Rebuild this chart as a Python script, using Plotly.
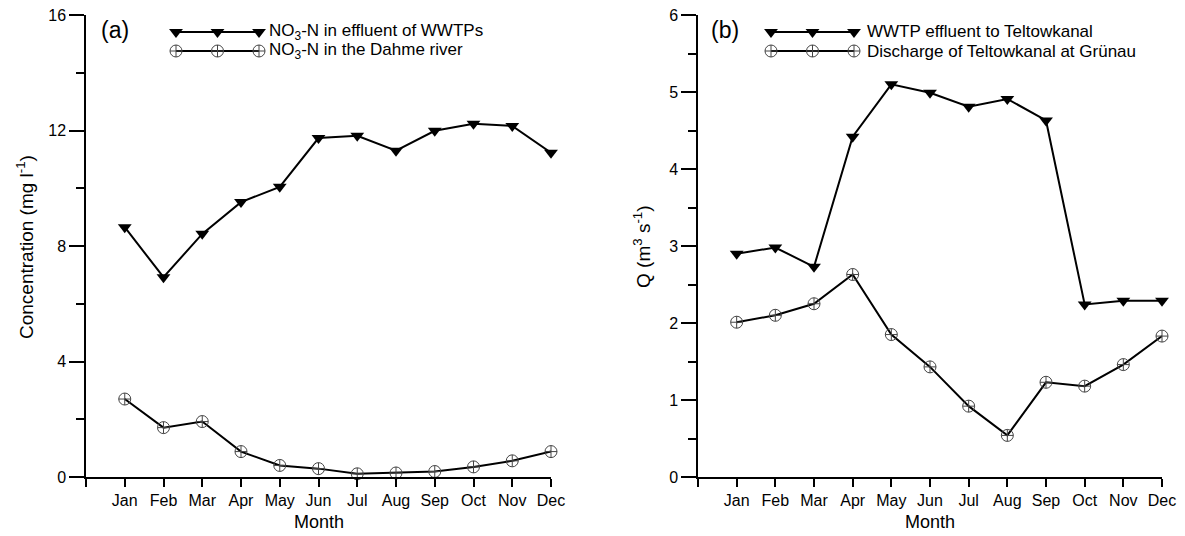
import plotly.graph_objects as go

# ---------------- data ----------------
months = ['Jan', 'Feb', 'Mar', 'Apr', 'May', 'Jun', 'Jul', 'Aug', 'Sep', 'Oct', 'Nov', 'Dec']
month_idx = list(range(1, 13))

wwtp_no3 = [8.65, 6.92, 8.42, 9.52, 10.05, 11.74, 11.82, 11.30, 11.99, 12.23, 12.16, 11.23]
dahme_no3 = [2.70, 1.71, 1.92, 0.88, 0.40, 0.29, 0.11, 0.14, 0.19, 0.35, 0.56, 0.88]

wwtp_q = [2.90, 2.98, 2.73, 4.42, 5.10, 4.99, 4.81, 4.91, 4.63, 2.24, 2.29, 2.29]
grunau_q = [2.01, 2.10, 2.25, 2.63, 1.85, 1.43, 0.92, 0.54, 1.23, 1.18, 1.46, 1.83]

left_yticks = [0, 4, 8, 12, 16]
right_yticks = [0, 1, 2, 3, 4, 5, 6]

series_a = ['NO<sub>3</sub>-N in effluent of WWTPs', 'NO<sub>3</sub>-N in the Dahme river']
series_b = ['WWTP effluent to Teltowkanal', 'Discharge of Teltowkanal at Grünau']

# ---------------- layout constants ----------------
W, H = 1185, 536
FONT = 'Liberation Sans, Arial, sans-serif'
x_left = [86 / W, 551 / W]
x_right = [698 / W, 1162 / W]
y_dom = [(H - 477) / H, (H - 15) / H]

tri = dict(symbol='triangle-down', size=12, color='black', line=dict(color='black', width=0))
circ = dict(symbol='circle-cross-open', size=12, color='#444444', line=dict(color='#444444', width=1))
line_style = dict(color='black', width=2)

fig = go.Figure()

fig.add_trace(go.Scatter(x=month_idx, y=wwtp_no3, mode='lines+markers', line=line_style,
                         marker=tri, xaxis='x', yaxis='y', showlegend=False, cliponaxis=False))
fig.add_trace(go.Scatter(x=month_idx, y=dahme_no3, mode='lines+markers', line=line_style,
                         marker=circ, xaxis='x', yaxis='y', showlegend=False, cliponaxis=False))
fig.add_trace(go.Scatter(x=month_idx, y=wwtp_q, mode='lines+markers', line=line_style,
                         marker=tri, xaxis='x2', yaxis='y2', showlegend=False, cliponaxis=False))
fig.add_trace(go.Scatter(x=month_idx, y=grunau_q, mode='lines+markers', line=line_style,
                         marker=circ, xaxis='x2', yaxis='y2', showlegend=False, cliponaxis=False))

# ---- custom legends drawn on a hidden pixel-space overlay axis ----
def legend_sample(x0, x1, y, marker):
    fig.add_trace(go.Scatter(x=[x0, (x0 + x1) / 2, x1], y=[y, y, y], mode='lines+markers',
                             line=line_style, marker=marker, xaxis='x3', yaxis='y3',
                             showlegend=False, hoverinfo='skip', cliponaxis=False))

row1, row2 = 32, 51
legend_sample(176, 259, row1, tri)
legend_sample(176, 259, row2, circ)
legend_sample(771, 854, row1, tri)
legend_sample(771, 854, row2, circ)

annotations = []
def txt(x, y, text, size, **kw):
    annotations.append(dict(x=x / W, y=(H - y) / H, xref='paper', yref='paper', text=text,
                            showarrow=False, font=dict(family=FONT, size=size, color='black'), **kw))

txt(267, row1, series_a[0], 17, xanchor='left', yanchor='middle')
txt(267, row2, series_a[1], 17, xanchor='left', yanchor='middle')
txt(865, row1, series_b[0], 17, xanchor='left', yanchor='middle')
txt(865, row2, series_b[1], 17, xanchor='left', yanchor='middle')
txt(99, 30, '(a)', 23, xanchor='left', yanchor='middle')
txt(709, 30, '(b)', 23, xanchor='left', yanchor='middle')
txt((86 + 551) / 2, 522, 'Month', 18, xanchor='center', yanchor='middle')
txt((698 + 1162) / 2, 522, 'Month', 18, xanchor='center', yanchor='middle')
txt(25, 247, 'Concentration (mg l<sup>-1</sup>)', 19, xanchor='center', yanchor='middle', textangle=-90)
txt(642, 247, 'Q (m<sup>3</sup> s<sup>-1</sup>)', 19, xanchor='center', yanchor='middle', textangle=-90)

xaxis_common = dict(range=[0, 12], tickvals=list(range(0, 13)), ticktext=[''] + months,
                    showline=True, linecolor='black', linewidth=1.5, ticks='outside', ticklen=8,
                    tickwidth=1.5, tickcolor='black', showgrid=False, zeroline=False,
                    tickfont=dict(family=FONT, size=16, color='black'), fixedrange=True)

yaxis_common = dict(showline=True, linecolor='black', linewidth=1.5, ticks='outside', ticklen=15,
                    tickwidth=1.5, tickcolor='black', showgrid=False, zeroline=False,
                    tickfont=dict(family=FONT, size=16, color='black'), fixedrange=True, domain=y_dom)

fig.update_layout(
    width=W, height=H, template='none',
    margin=dict(l=0, r=0, t=0, b=0),
    paper_bgcolor='white', plot_bgcolor='rgba(0,0,0,0)',
    showlegend=False,
    xaxis=dict(domain=x_left, anchor='y', **xaxis_common),
    yaxis=dict(anchor='x', range=[0, 16], tickvals=left_yticks,
               minor=dict(dtick=2, ticks='outside', ticklen=8, tickwidth=1.5, tickcolor='black'),
               **yaxis_common),
    xaxis2=dict(domain=x_right, anchor='y2', **xaxis_common),
    yaxis2=dict(anchor='x2', range=[0, 6], tickvals=right_yticks,
                minor=dict(dtick=0.5, ticks='outside', ticklen=8, tickwidth=1.5, tickcolor='black'),
                **yaxis_common),
    xaxis3=dict(domain=[0, 1], anchor='y3', range=[0, W], visible=False, fixedrange=True),
    yaxis3=dict(domain=[0, 1], anchor='x3', range=[H, 0], visible=False, fixedrange=True),
    annotations=annotations,
)

fig.write_html('out.html')
